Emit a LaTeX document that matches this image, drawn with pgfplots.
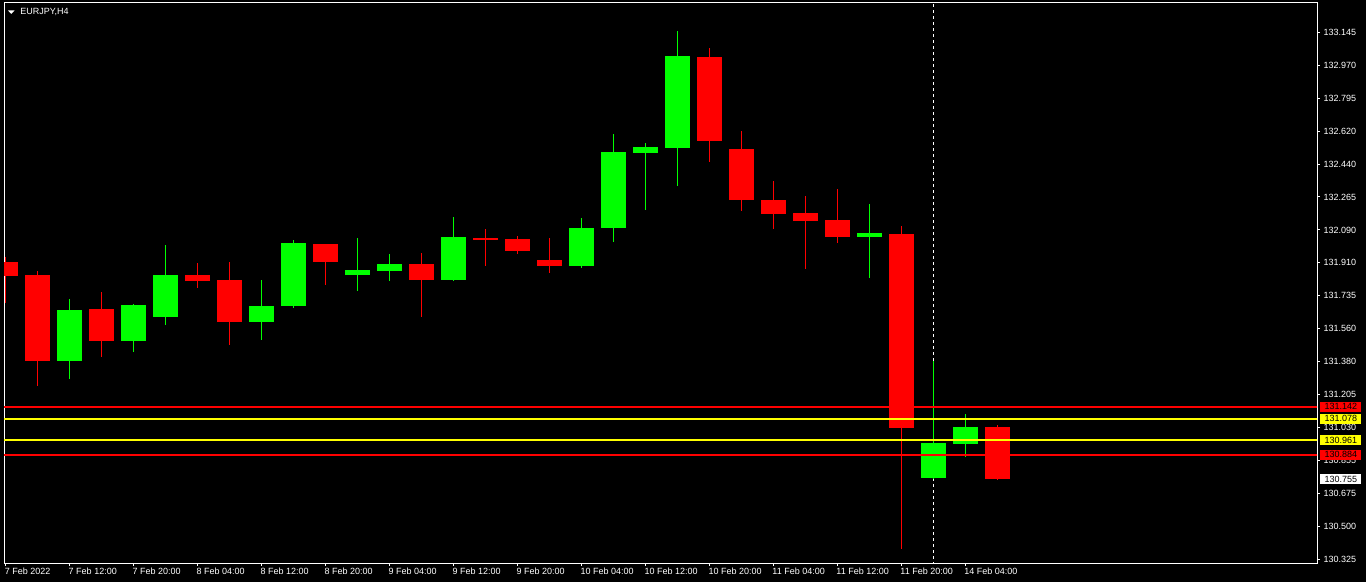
\documentclass[border=0pt]{standalone}
\usepackage{fontspec}
\setmainfont{Liberation Sans}
\usepackage{pgfplots}
\pgfplotsset{compat=1.18}
\usepackage{pgfplotstable}

\definecolor{mtred}{RGB}{255,0,0}
\definecolor{mtgreen}{RGB}{0,255,0}
\definecolor{mtyellow}{RGB}{255,255,0}

% bearish candles: index, open, high, low, close
\pgfplotstableread{
k o h l c
0 131.916 131.943 131.698 131.843
1 131.846 131.868 131.254 131.388
3 131.664 131.755 131.409 131.495
6 131.846 131.911 131.778 131.814
7 131.820 131.916 131.473 131.596
10 132.012 132.014 131.794 131.916
13 131.905 131.964 131.623 131.821
15 132.044 132.092 131.896 132.035
16 132.039 132.055 131.960 131.976
17 131.927 132.044 131.859 131.896
22 133.013 133.061 132.453 132.565
23 132.521 132.617 132.190 132.249
24 132.248 132.349 132.094 132.174
25 132.178 132.269 131.880 132.135
26 132.141 132.307 132.019 132.051
28 132.066 132.109 130.382 131.029
31 131.033 131.044 130.751 130.755
}\bear

% bullish candles
\pgfplotstableread{
k o h l c
2 131.388 131.718 131.291 131.659
4 131.495 131.690 131.436 131.686
5 131.623 132.007 131.579 131.846
8 131.596 131.820 131.500 131.680
9 131.682 132.034 131.671 132.018
11 131.848 132.044 131.762 131.873
12 131.869 131.959 131.816 131.905
14 131.821 132.157 131.816 132.050
18 131.896 132.151 131.885 132.098
19 132.099 132.601 132.025 132.505
20 132.501 132.553 132.196 132.531
21 132.528 133.152 132.324 133.018
27 132.051 132.226 131.832 132.071
29 130.762 131.386 130.752 130.947
30 130.944 131.103 130.874 131.033
}\bull

\newcommand{\mtfont}{\fontsize{6.75pt}{8pt}\selectfont}

\begin{document}
\begin{tikzpicture}
\fill[black] (-3pt,-14.25pt) rectangle (1021.5pt,422.25pt);
\begin{axis}[
  name=ax,
  at={(0pt,0pt)}, anchor=south west,
  scale only axis, width=984.75pt, height=420pt,
  xmin=-0.047, xmax=41.0, ymin=130.305, ymax=133.302,
  axis line style={white, line width=0.75pt},
  tick align=outside,
  major tick length=2.25pt,
  tick style={white, line width=0.75pt},
  xtick pos=bottom, ytick pos=right,
  yticklabel pos=right,
  xtick={0,2,...,30},
  xticklabels={7 Feb 2022, 7 Feb 12:00, 7 Feb 20:00, 8 Feb 04:00, 8 Feb 12:00, 8 Feb 20:00, 9 Feb 04:00, 9 Feb 12:00, 9 Feb 20:00, 10 Feb 04:00, 10 Feb 12:00, 10 Feb 20:00, 11 Feb 04:00, 11 Feb 12:00, 11 Feb 20:00, 14 Feb 04:00},
  ytick={130.325,130.50125,130.6775,130.85375,131.03,131.20625,131.3825,131.55875,131.735,131.91125,132.0875,132.26375,132.44,132.61625,132.7925,132.96875,133.145},
  yticklabels={130.325,130.500,130.675,130.855,131.030,131.205,131.380,131.560,131.735,131.910,132.090,132.265,132.440,132.620,132.795,132.970,133.145},
  xticklabel style={anchor=north west, inner sep=0pt, text=white, font=\mtfont, xshift=-0.75pt, yshift=-1.5pt},
  yticklabel style={anchor=west, inner sep=0pt, text=white, font=\mtfont, xshift=2.5pt},
  axis background/.style={fill=black},
]
% crosshair
\addplot[white, line width=0.75pt, dash pattern=on 2.25pt off 2.25pt, forget plot] coordinates {(29,130.2) (29,133.4)};
% wicks (low to high)
\addplot[mtred, -, mark=none, line width=0.75pt, forget plot,
  quiver={u=0, v=\thisrow{h}-\thisrow{l}}]
  table[x=k, y=l] {\bear};
\addplot[mtgreen, -, mark=none, line width=0.75pt, forget plot,
  quiver={u=0, v=\thisrow{h}-\thisrow{l}}]
  table[x=k, y=l] {\bull};
% bodies (open to close)
\addplot[mtred, -, mark=none, line width=18.75pt, line cap=butt, forget plot,
  quiver={u=0, v=\thisrow{o}-\thisrow{c}}]
  table[x=k, y=c] {\bear};
\addplot[mtgreen, -, mark=none, line width=18.75pt, line cap=butt, forget plot,
  quiver={u=0, v=\thisrow{c}-\thisrow{o}}]
  table[x=k, y=o] {\bull};
% horizontal levels
\addplot[mtred, line width=1.5pt, forget plot] coordinates {(-1,131.142) (42,131.142)};
\addplot[mtyellow, line width=1.5pt, forget plot] coordinates {(-1,131.078) (42,131.078)};
\addplot[mtyellow, line width=1.5pt, forget plot] coordinates {(-1,130.961) (42,130.961)};
\addplot[mtred, line width=1.5pt, forget plot] coordinates {(-1,130.884) (42,130.884)};
\coordinate (b1) at (axis cs:41.0,131.142);
\coordinate (b2) at (axis cs:41.0,131.078);
\coordinate (b3) at (axis cs:41.0,130.961);
\coordinate (b4) at (axis cs:41.0,130.884);
\coordinate (b5) at (axis cs:41.0,130.755);
\end{axis}
\tikzset{pbox/.style={anchor=west, inner sep=0pt, minimum width=30.75pt, minimum height=7.5pt, font=\mtfont, text=black}}
\node[pbox, fill=mtred] at ([xshift=2.25pt]b1) {131.142};
\node[pbox, fill=mtyellow] at ([xshift=2.25pt]b2) {131.078};
\node[pbox, fill=mtyellow] at ([xshift=2.25pt]b3) {130.961};
\node[pbox, fill=mtred] at ([xshift=2.25pt]b4) {130.884};
\node[pbox, fill=white] at ([xshift=2.25pt]b5) {130.755};
% title
\fill[white] ([xshift=3pt,yshift=-5.6pt]ax.north west) -- ([xshift=7.9pt,yshift=-5.6pt]ax.north west) -- ([xshift=5.45pt,yshift=-8.2pt]ax.north west) -- cycle;
\node[anchor=west, inner sep=0pt, text=white, font=\mtfont] at ([xshift=12pt,yshift=-6.6pt]ax.north west) {EURJPY,H4};
\pgfresetboundingbox
\path[use as bounding box] (-3pt,-14.25pt) rectangle (1021.5pt,422.25pt);
\end{tikzpicture}
\end{document}
